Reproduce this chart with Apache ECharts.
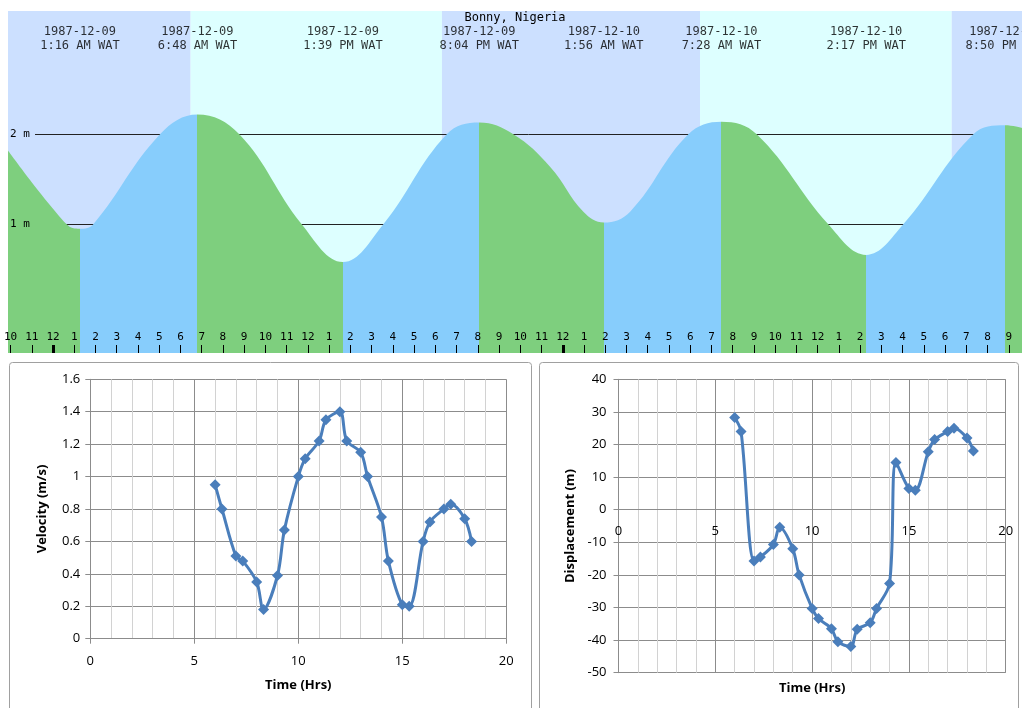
<!DOCTYPE html>
<html><head><meta charset="utf-8">
<script src="https://cdn.jsdelivr.net/npm/echarts@6/dist/echarts.min.js"></script>
<style>html,body{margin:0;padding:0;background:#fff}#c{width:1022px;height:708px}</style>
</head><body><div id="c"></div><script>
// ---------- Tide panel (hours since 1987-12-09 00:00 WAT) ----------
const tideHours   = [-2.119, 0.645, 1.267, 1.897, 5.038, 6.8, 8.771, 11.709, 13.65, 15.551, 18.536, 20.067, 21.672, 23.40, 24.97, 25.933, 27.17, 29.91, 31.467, 33.13, 36.50, 38.283, 40.03, 43.33, 44.833, 45.62];
const tideHeights = [1.82,   1.0,   0.95,  1.0,   2.0,   2.22, 2.0,   1.0,    0.58,  1.0,    2.0,    2.13,   2.0,    1.64,  1.14,  1.02,   1.14,  2.0,   2.14,   2.0,   1.0,   0.66,   1.0,   2.0,   2.10,   2.07];
const eventHours = [1.267, 6.8, 13.65, 20.067, 25.933, 31.467, 38.283, 44.833];
const eventKinds = ['low', 'high', 'low', 'high', 'low', 'high', 'low', 'high'];
const eventDates = ['1987-12-09', '1987-12-09', '1987-12-09', '1987-12-09', '1987-12-10', '1987-12-10', '1987-12-10', '1987-12-10'];
const eventTimes = ['1:16 AM WAT', '6:48 AM WAT', '1:39 PM WAT', '8:04 PM WAT', '1:56 AM WAT', '7:28 AM WAT', '2:17 PM WAT', '8:50 PM WAT'];
const sunHours = [6.48, 18.31, 30.46, 42.31];   // sunrise, sunset, sunrise, sunset
const levelMetres = [1, 2];
const midnightHours = [0, 24];
const tideTitle = 'Bonny, Nigeria';

// ---------- Current measurements ----------
const sampleHours = [6.0, 6.33, 7.0, 7.33, 8.0, 8.33, 9.0, 9.33, 10.0, 10.33, 11.0, 11.33, 12.0, 12.33, 13.0, 13.33, 14.0, 14.33, 15.0, 15.33, 16.0, 16.33, 17.0, 17.33, 18.0, 18.33];
const velocity = [0.95, 0.80, 0.51, 0.48, 0.35, 0.18, 0.39, 0.67, 1.00, 1.11, 1.22, 1.35, 1.40, 1.22, 1.15, 1.00, 0.75, 0.48, 0.21, 0.20, 0.60, 0.72, 0.80, 0.83, 0.74, 0.60];
const displacement = [28.3, 24.0, -15.7, -14.5, -10.7, -5.4, -12.0, -20.0, -30.3, -33.4, -36.5, -40.5, -42.0, -36.7, -34.7, -30.3, -22.6, 14.5, 6.5, 6.0, 17.8, 21.5, 24.0, 25.0, 22.0, 18.0];

// ---------- styling constants ----------
const NIGHT = '#cce0ff', DAY = '#ddffff', RISE = '#87cdfc', FALL = '#7ecf7e';
const MONO = 'DejaVu Sans Mono';
const XL = '#4a7ebb', MAJOR = '#8c8c8c', MINOR = '#d2d2d2';
const tMin = -2.119, tMax = 45.62, hMin = -0.43, hMax = 3.37;
const dMin = -50, dMax = 40, dGridH = 293.4;

const hourTicks = [];
for (let h = Math.ceil(tMin); h <= Math.floor(tMax); h++) hourTicks.push(h);
const hourLabel = v => { const d = ((Math.round(v) % 12) + 12) % 12; return String(d === 0 ? 12 : d); };

const bandEdges = [tMin].concat(sunHours, [tMax]);
const bandData = [];
for (let i = 0; i < bandEdges.length - 1; i++) {
  bandData.push([{ xAxis: bandEdges[i], itemStyle: { color: i % 2 === 0 ? NIGHT : DAY, opacity: 1 } }, { xAxis: bandEdges[i + 1] }]);
}
const pieceEdges = [-100].concat(eventHours, [100]);
const pieces = [];
for (let i = 0; i < pieceEdges.length - 1; i++) {
  const endKind = i < eventKinds.length ? eventKinds[i] : (eventKinds[eventKinds.length - 1] === 'high' ? 'low' : 'high');
  pieces.push({ min: pieceEdges[i], max: pieceEdges[i + 1], color: endKind === 'low' ? FALL : RISE });
}
const levelLineStart = -0.847;
const levelData = levelMetres.map(m => [{ coord: [levelLineStart, m] }, { coord: [tMax, m] }]);
// place the displacement chart's x axis on its zero line
const zeroOffset = -((0 - dMin) / (dMax - dMin)) * dGridH;

const chart = echarts.init(document.getElementById('c'));
const xlFont = { fontFamily: 'Open Sans', fontSize: 13, color: '#000' };
const nameFont = { fontFamily: 'Open Sans', fontSize: 13, fontWeight: 'bold', color: '#000' };

chart.setOption({
  animation: false,
  title: { text: tideTitle, left: 510, top: 7, padding: 5, textAlign: 'center',
    textStyle: { fontFamily: MONO, fontSize: 12, fontWeight: 'normal', color: '#000' } },
  graphic: [
    { type: 'rect', shape: { x: 9.5, y: 362.5, width: 522, height: 360, r: 3 }, style: { fill: 'none', stroke: '#a0a0a0', lineWidth: 1 }, z: -10 },
    { type: 'rect', shape: { x: 539.5, y: 362.5, width: 479, height: 360, r: 3 }, style: { fill: 'none', stroke: '#a0a0a0', lineWidth: 1 }, z: -10 }
  ],
  grid: [
    { left: 8, top: 11, width: 1014, height: 342, outerBoundsMode: 'none', containLabel: false },
    { left: 8, top: 11, width: 1014, height: 342, outerBoundsMode: 'none', containLabel: false },
    { left: 90.3, top: 379.3, width: 416, height: 259.4, outerBoundsMode: 'none', containLabel: false },
    { left: 618.5, top: 379.3, width: 387.2, height: dGridH, outerBoundsMode: 'none', containLabel: false }
  ],
  visualMap: { type: 'piecewise', show: false, dimension: 0, seriesIndex: 0, pieces: pieces, outOfRange: { color: FALL } },
  xAxis: [
    { type: 'value', gridIndex: 0, min: tMin, max: tMax, z: 10, position: 'bottom',
      axisLine: { show: false, onZero: false }, splitLine: { show: false },
      axisTick: { inside: true, length: 8, customValues: hourTicks, lineStyle: { color: '#000', width: 1 } },
      axisLabel: { inside: true, margin: 10, customValues: hourTicks, formatter: hourLabel, fontFamily: MONO, fontSize: 11, color: '#000' } },
    { type: 'value', gridIndex: 1, min: tMin, max: tMax, z: 11, position: 'bottom',
      axisLine: { show: false, onZero: false }, splitLine: { show: false }, axisLabel: { show: false },
      axisTick: { inside: true, length: 8, customValues: midnightHours, lineStyle: { color: '#000', width: 3 } } },
    { type: 'value', gridIndex: 2, min: 0, max: 20, interval: 5,
      axisLine: { onZero: false, lineStyle: { color: MAJOR } },
      axisTick: { show: true, length: 5, lineStyle: { color: MAJOR } },
      axisLabel: Object.assign({ margin: 16 }, xlFont),
      splitLine: { show: true, lineStyle: { color: MAJOR } },
      minorTick: { show: false, splitNumber: 5 },
      minorSplitLine: { show: true, lineStyle: { color: MINOR } },
      name: 'Time (Hrs)', nameLocation: 'middle', nameGap: 40, nameTextStyle: nameFont },
    { type: 'value', gridIndex: 3, min: 0, max: 20, interval: 5, position: 'bottom', offset: zeroOffset,
      axisLine: { onZero: false, lineStyle: { color: MAJOR } },
      axisTick: { show: false },
      axisLabel: Object.assign({ margin: 15 }, xlFont),
      splitLine: { show: true, lineStyle: { color: MAJOR } },
      minorTick: { show: false, splitNumber: 5 },
      minorSplitLine: { show: true, lineStyle: { color: MINOR } },
      name: 'Time (Hrs)', nameLocation: 'middle', nameGap: 172, nameTextStyle: nameFont }
  ],
  yAxis: [
    { type: 'value', gridIndex: 0, min: hMin, max: hMax, z: 10,
      axisLine: { show: false, onZero: false }, axisTick: { show: false }, splitLine: { show: false },
      axisLabel: { inside: true, margin: 2, customValues: levelMetres, formatter: v => v + ' m', fontFamily: MONO, fontSize: 11, color: '#000' } },
    { type: 'value', gridIndex: 1, min: hMin, max: hMax, show: false },
    { type: 'value', gridIndex: 2, min: 0, max: 1.6, interval: 0.2,
      axisLine: { show: true, onZero: false, lineStyle: { color: MAJOR } },
      axisTick: { show: true, length: 5, lineStyle: { color: MAJOR } },
      axisLabel: Object.assign({ margin: 10 }, xlFont),
      splitLine: { show: true, lineStyle: { color: MAJOR } },
      name: 'Velocity (m/s)', nameLocation: 'middle', nameGap: 42, nameRotate: 90, nameTextStyle: nameFont },
    { type: 'value', gridIndex: 3, min: dMin, max: dMax, interval: 10,
      axisLine: { show: true, onZero: false, lineStyle: { color: MAJOR } },
      axisTick: { show: true, length: 5, lineStyle: { color: MAJOR } },
      axisLabel: Object.assign({ margin: 12 }, xlFont),
      splitLine: { show: true, lineStyle: { color: MAJOR } },
      name: 'Displacement (m)', nameLocation: 'middle', nameGap: 42, nameRotate: 90, nameTextStyle: nameFont }
  ],
  series: [
    { type: 'line', xAxisIndex: 0, yAxisIndex: 0, z: 3,
      data: tideHours.map((t, i) => [t, tideHeights[i]]),
      smooth: 0.4, showSymbol: false, symbol: 'none',
      lineStyle: { width: 0 }, areaStyle: { opacity: 1, origin: 'start' },
      markArea: { silent: true, z: 1, data: bandData },
      markLine: { silent: true, z: 2, symbol: 'none', label: { show: false },
        lineStyle: { color: '#222', width: 1, type: 'solid' }, data: levelData } },
    { type: 'scatter', xAxisIndex: 0, yAxisIndex: 0, z: 10, clip: false, symbolSize: 0,
      data: eventHours.map(t => [t, hMax]),
      label: { show: true, position: 'bottom', distance: 14, fontFamily: MONO, fontSize: 12, lineHeight: 14, color: '#000',
        formatter: p => eventDates[p.dataIndex] + '\n' + eventTimes[p.dataIndex] } },
    { type: 'line', xAxisIndex: 2, yAxisIndex: 2, z: 5,
      data: sampleHours.map((t, i) => [t, velocity[i]]),
      smooth: 0.33, symbol: 'diamond', symbolSize: 11,
      lineStyle: { color: XL, width: 3 }, itemStyle: { color: XL } },
    { type: 'line', xAxisIndex: 3, yAxisIndex: 3, z: 5,
      data: sampleHours.map((t, i) => [t, displacement[i]]),
      smooth: 0.33, symbol: 'diamond', symbolSize: 11,
      lineStyle: { color: XL, width: 3 }, itemStyle: { color: XL } }
  ]
});
</script></body></html>
